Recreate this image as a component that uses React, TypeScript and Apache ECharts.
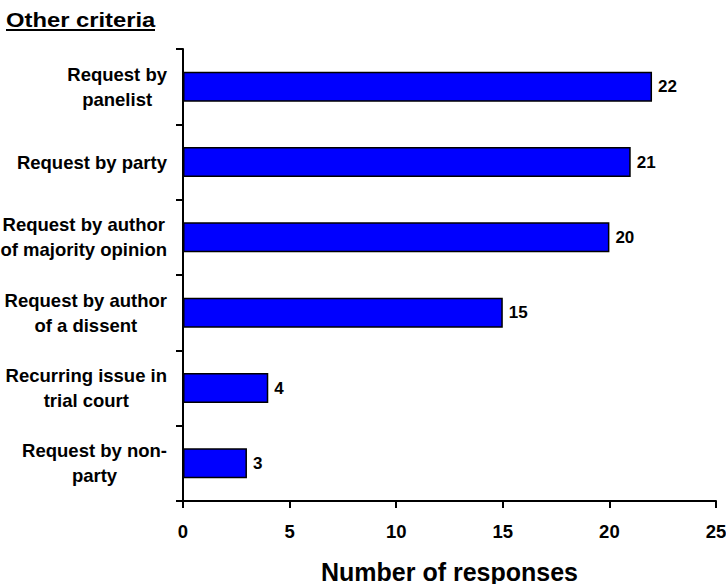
import React, { useEffect, useRef } from "react";
import * as echarts from "echarts";

// Survey responses for each criterion, listed top to bottom
const categories = [
  "Request by\npanelist",
  "Request by party",
  "Request by author\nof majority opinion",
  "Request by author\nof a dissent",
  "Recurring issue in\ntrial court",
  "Request by non-\nparty",
];
const responses = [22, 21, 20, 15, 4, 3];
const xTicks = { min: 0, max: 25, interval: 5 };

const FONT = "'Liberation Sans', Arial, Helvetica, sans-serif";

export default function App() {
  const ref = useRef<HTMLDivElement>(null);

  useEffect(() => {
    if (!ref.current) return;
    const chart = echarts.init(ref.current, undefined, { renderer: "svg" });
    chart.setOption({
      animation: false,
      backgroundColor: "#ffffff",
      textStyle: { fontFamily: FONT },
      grid: {
        left: 183,
        right: 10,
        top: 49,
        bottom: 83,
        containLabel: false,
        outerBoundsMode: "none",
      },
      graphic: [
        {
          type: "text",
          x: 6,
          y: 20,
          scaleX: 1.16,
          style: {
            text: "Other criteria",
            fontFamily: FONT,
            fontWeight: "bold",
            fontSize: 20.5,
            fill: "#000",
            verticalAlign: "middle",
            align: "left",
          },
        },
        {
          type: "line",
          shape: { x1: 6, y1: 30, x2: 155, y2: 30 },
          style: { stroke: "#000", lineWidth: 2 },
        },
      ],
      xAxis: {
        type: "value",
        min: xTicks.min,
        max: xTicks.max,
        interval: xTicks.interval,
        name: "Number of responses",
        nameLocation: "middle",
        nameGap: 58,
        nameTextStyle: {
          fontFamily: FONT,
          fontWeight: "bold",
          fontSize: 25,
          color: "#000",
        },
        splitLine: { show: false },
        axisLine: { show: true, lineStyle: { color: "#000", width: 2 } },
        axisTick: { show: true, length: 7, lineStyle: { color: "#000", width: 2 } },
        axisLabel: {
          margin: 21,
          fontFamily: FONT,
          fontWeight: "bold",
          fontSize: 18.5,
          color: "#000",
        },
      },
      yAxis: {
        type: "category",
        data: categories,
        inverse: true,
        axisLine: { show: true, lineStyle: { color: "#000", width: 2 } },
        axisTick: {
          show: true,
          length: 7,
          alignWithLabel: false,
          lineStyle: { color: "#000", width: 2 },
        },
        axisLabel: {
          margin: 16,
          align: "right",
          fontFamily: FONT,
          fontWeight: "bold",
          fontSize: 18.5,
          lineHeight: 25,
          color: "#000",
          formatter: (v: string) =>
            v
              .split("\n")
              .map((l) => `{c|${l}}`)
              .join("\n"),
          rich: {
            c: {
              align: "center",
              fontFamily: FONT,
              fontWeight: "bold",
              fontSize: 18.5,
              lineHeight: 25,
              color: "#000",
            },
          },
        },
      },
      series: [
        {
          type: "bar",
          data: responses,
          barWidth: 30,
          itemStyle: { color: "#0000ff", borderColor: "#000", borderWidth: 1.5 },
          label: {
            show: true,
            position: "right",
            distance: 6,
            fontFamily: FONT,
            fontWeight: "bold",
            fontSize: 17,
            color: "#000",
          },
        },
      ],
    });
    return () => chart.dispose();
  }, []);

  return (
    <div
      ref={ref}
      style={{ position: "fixed", left: 0, top: 0, width: 726, height: 584 }}
    />
  );
}
